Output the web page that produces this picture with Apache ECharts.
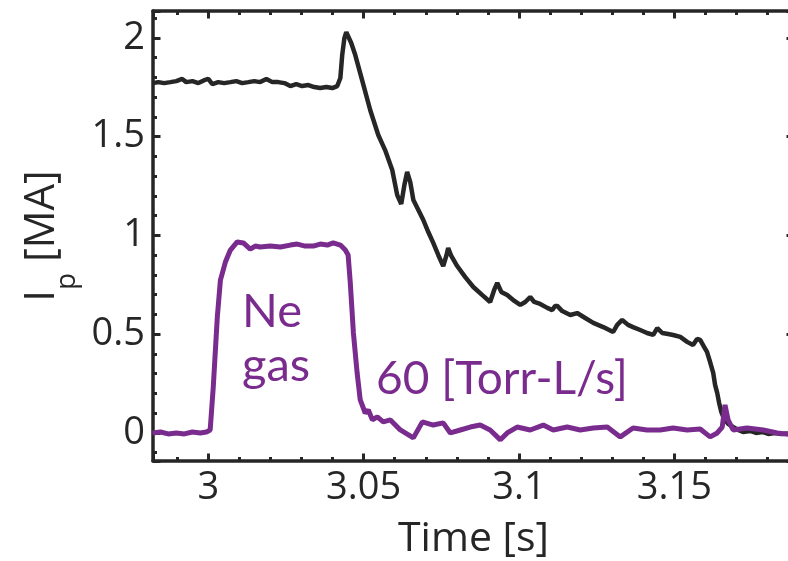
<!DOCTYPE html>
<html>
<head>
<meta charset="utf-8">
<script src="https://cdn.jsdelivr.net/npm/echarts@6/dist/echarts.min.js"></script>
<style>
  html, body { margin: 0; padding: 0; background: #fff; }
  #chart { width: 788px; height: 561px; }
</style>
</head>
<body>
<div id="chart"></div>
<script>
// plasma current Ip [MA]
const ipTime = [2.9822, 2.9839, 2.9858, 2.9878, 2.9897, 2.9916, 2.9929, 2.9949, 2.9968, 2.9987,
  3.0000, 3.0013, 3.0032, 3.0051, 3.0071, 3.0090, 3.0109, 3.0129, 3.0148, 3.0167,
  3.0187, 3.0206, 3.0225, 3.0245, 3.0264, 3.0283, 3.0302, 3.0322, 3.0341, 3.0360,
  3.0380, 3.0399, 3.0415, 3.0425, 3.0431, 3.0438, 3.0444, 3.0450, 3.0460, 3.0473,
  3.0495, 3.0521, 3.0547, 3.0569, 3.0592, 3.0608, 3.0621, 3.0631, 3.0640, 3.0650,
  3.0660, 3.0676, 3.0692, 3.0708, 3.0724, 3.0740, 3.0756, 3.0766, 3.0772, 3.0782,
  3.0801, 3.0827, 3.0853, 3.0882, 3.0907, 3.0920, 3.0930, 3.0943, 3.0962, 3.0985,
  3.1004, 3.1020, 3.1036, 3.1049, 3.1068, 3.1091, 3.1107, 3.1116, 3.1123, 3.1139,
  3.1165, 3.1187, 3.1213, 3.1239, 3.1271, 3.1303, 3.1316, 3.1332, 3.1351, 3.1367,
  3.1390, 3.1412, 3.1432, 3.1445, 3.1461, 3.1480, 3.1496, 3.1519, 3.1541, 3.1560,
  3.1573, 3.1583, 3.1596, 3.1605, 3.1615, 3.1625, 3.1631, 3.1638, 3.1644, 3.1651,
  3.1660, 3.1673, 3.1689, 3.1705, 3.1721, 3.1744, 3.1763, 3.1783, 3.1802, 3.1824,
  3.1844, 3.1885]
const ipValue = [1.771, 1.776, 1.771, 1.776, 1.781, 1.792, 1.776, 1.781, 1.771, 1.786,
  1.792, 1.766, 1.776, 1.771, 1.776, 1.781, 1.771, 1.776, 1.781, 1.776,
  1.792, 1.776, 1.776, 1.771, 1.756, 1.766, 1.756, 1.761, 1.751, 1.746,
  1.751, 1.746, 1.756, 1.797, 1.913, 1.999, 2.029, 2.019, 1.974, 1.913,
  1.786, 1.635, 1.508, 1.432, 1.331, 1.204, 1.159, 1.255, 1.321, 1.270,
  1.179, 1.129, 1.078, 1.017, 0.962, 0.901, 0.845, 0.896, 0.936, 0.896,
  0.845, 0.789, 0.739, 0.698, 0.663, 0.724, 0.759, 0.714, 0.698, 0.668,
  0.648, 0.663, 0.688, 0.663, 0.653, 0.633, 0.622, 0.643, 0.643, 0.617,
  0.597, 0.607, 0.582, 0.557, 0.536, 0.511, 0.547, 0.572, 0.547, 0.536,
  0.521, 0.506, 0.496, 0.531, 0.506, 0.501, 0.496, 0.486, 0.461, 0.445,
  0.476, 0.471, 0.435, 0.410, 0.359, 0.304, 0.243, 0.202, 0.152, 0.106,
  0.071, 0.046, 0.030, 0.015, 0.005, 0.010, 0.000, 0.005, -0.005, 0.000,
  -0.005, 0.000]

// Ne gas puff, 60 Torr-L/s (scaled)
const neTime = [2.9820, 2.9846, 2.9871, 2.9897, 2.9923, 2.9949, 2.9974, 2.9994, 3.0006, 3.0016,
  3.0029, 3.0039, 3.0055, 3.0071, 3.0093, 3.0113, 3.0135, 3.0151, 3.0167, 3.0199,
  3.0232, 3.0264, 3.0286, 3.0312, 3.0338, 3.0360, 3.0383, 3.0402, 3.0425, 3.0441,
  3.0450, 3.0457, 3.0467, 3.0479, 3.0489, 3.0505, 3.0515, 3.0528, 3.0544, 3.0563,
  3.0586, 3.0618, 3.0660, 3.0689, 3.0724, 3.0756, 3.0779, 3.0811, 3.0843, 3.0875,
  3.0907, 3.0940, 3.0962, 3.0994, 3.1036, 3.1078, 3.1110, 3.1155, 3.1197, 3.1239,
  3.1284, 3.1326, 3.1367, 3.1412, 3.1454, 3.1496, 3.1541, 3.1583, 3.1615, 3.1638,
  3.1654, 3.1663, 3.1673, 3.1689, 3.1734, 3.1786, 3.1831, 3.1885]
const neValue = [0.000, 0.005, -0.005, 0.000, -0.005, 0.005, 0.000, 0.005, 0.015, 0.233,
  0.587, 0.774, 0.865, 0.926, 0.967, 0.962, 0.931, 0.946, 0.941, 0.946,
  0.941, 0.951, 0.956, 0.946, 0.946, 0.956, 0.951, 0.962, 0.951, 0.926,
  0.901, 0.759, 0.506, 0.304, 0.167, 0.101, 0.116, 0.066, 0.081, 0.056,
  0.066, 0.015, -0.025, 0.056, 0.040, 0.051, 0.000, 0.015, 0.030, 0.040,
  0.015, -0.035, 0.000, 0.030, 0.015, 0.040, 0.015, 0.030, 0.015, 0.025,
  0.030, -0.020, 0.025, 0.015, 0.015, 0.025, 0.015, 0.020, -0.020, 0.000,
  0.030, 0.142, 0.066, 0.015, 0.025, 0.015, 0.000, -0.010]

const xTicks = [3, 3.05, 3.1, 3.15]
const yTicks = [0, 0.5, 1, 1.5, 2]

const xMin = 2.9822, xMax = 3.1885
const yMin = -0.142, yMax = 2.136

const ink = '#262626'
const purple = '#7a2c8e'
const font = 'Open Sans'

function onlyTicks (list) {
  return function (v) {
    for (let i = 0; i < list.length; i++) {
      if (Math.abs(list[i] - v) < 1e-6) return String(list[i])
    }
    return ''
  }
}

function frameAxis (pos, min, max, labels, extra) {
  let a = {
    type: 'value',
    position: pos,
    min: min,
    max: max,
    axisLine: { show: true, onZero: false, lineStyle: { color: ink, width: 3.5 } },
    axisTick: { show: true, inside: true, length: 7.5, lineStyle: { color: ink, width: 3 } },
    minorTick: { show: true, splitNumber: 5, length: 4, lineStyle: { color: ink, width: 3 } },
    splitLine: { show: false },
    minorSplitLine: { show: false },
    axisLabel: { show: false }
  }
  if (labels) {
    a.axisLabel = {
      show: true,
      formatter: onlyTicks(labels),
      color: ink,
      fontFamily: font,
      fontSize: 38,
      showMinLabel: true,
      showMaxLabel: true
    }
  }
  return Object.assign(a, extra || {})
}

let myChart = echarts.init(document.getElementById('chart'))
let option = {
  animation: false,
  backgroundColor: '#fff',
  grid: { left: 153, right: -6, top: 11, bottom: 100, containLabel: false, outerBoundsMode: 'none' },
  xAxis: [
    frameAxis('bottom', xMin, xMax, xTicks, {
      name: 'Time [s]',
      nameLocation: 'middle',
      nameGap: 58,
      nameTextStyle: { color: ink, fontFamily: font, fontSize: 41 }
    }),
    frameAxis('top', xMin, xMax, null)
  ],
  yAxis: [
    frameAxis('left', yMin, yMax, yTicks, {
      name: '{i|I}{p|p}{m| [MA]}',
      nameLocation: 'middle',
      nameRotate: 90,
      nameGap: 62,
      nameTextStyle: {
        color: ink,
        rich: {
          i: { fontFamily: font, fontSize: 42, color: ink, lineHeight: 78, verticalAlign: 'middle' },
          p: { fontFamily: font, fontSize: 28, color: ink, lineHeight: 78, verticalAlign: 'bottom' },
          m: { fontFamily: font, fontSize: 42, color: ink, lineHeight: 78, verticalAlign: 'middle' }
        }
      }
    }),
    frameAxis('right', yMin, yMax, null)
  ],
  series: [
    {
      name: 'Ip',
      type: 'line',
      xAxisIndex: 0,
      yAxisIndex: 0,
      showSymbol: false,
      symbol: 'none',
      lineStyle: { color: ink, width: 4.5 },
      data: ipTime.map((t, i) => [t, ipValue[i]])
    },
    {
      name: 'Ne',
      type: 'line',
      xAxisIndex: 0,
      yAxisIndex: 0,
      showSymbol: false,
      symbol: 'none',
      lineStyle: { color: purple, width: 5 },
      data: neTime.map((t, i) => [t, neValue[i]])
    }
  ],
  graphic: [
    { type: 'text', x: 242, y: 312, style: { text: 'Ne', fill: purple, font: '47px Lato', verticalAlign: 'middle' } },
    { type: 'text', x: 242, y: 366, style: { text: 'gas', fill: purple, font: '47px Lato', verticalAlign: 'middle' } },
    { type: 'text', x: 376, y: 379, style: { text: '60 [Torr-L/s]', fill: purple, font: '46px Lato', verticalAlign: 'middle' } }
  ]
}
myChart.setOption(option)
</script>
</body>
</html>
